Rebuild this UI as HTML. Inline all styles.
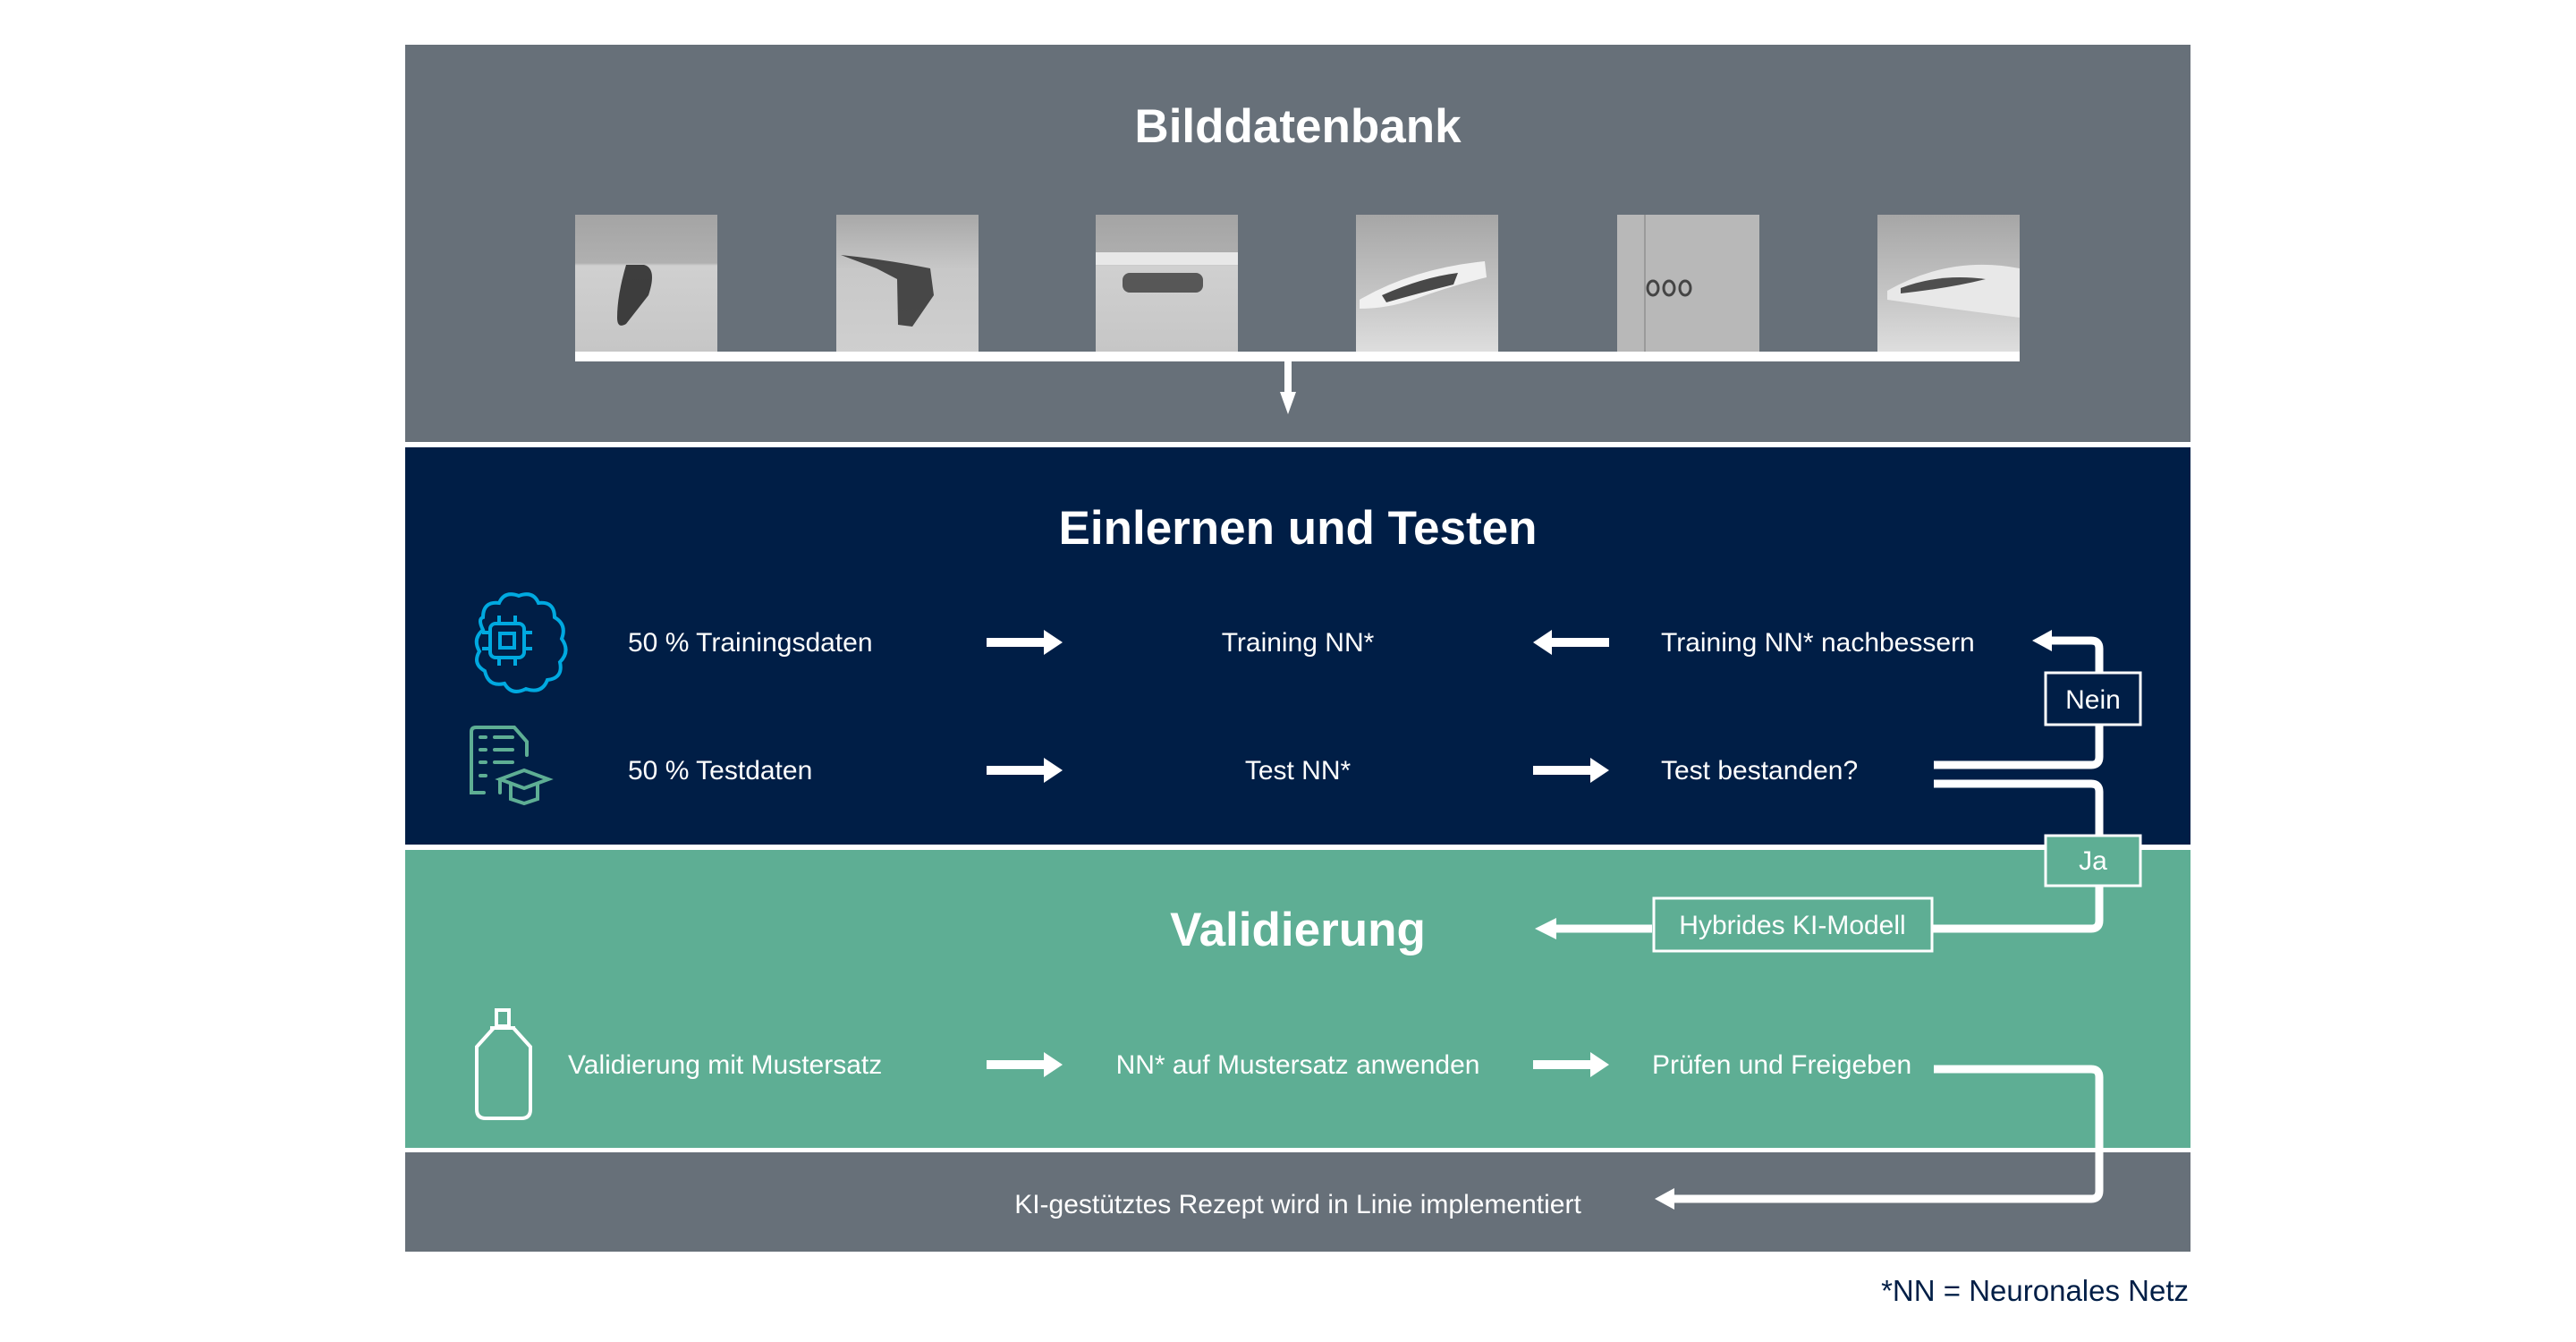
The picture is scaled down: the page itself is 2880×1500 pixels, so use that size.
<!DOCTYPE html>
<html><head><meta charset="utf-8"><style>
html,body{margin:0;padding:0;background:#fff;}
svg{display:block;}
text{font-family:"Liberation Sans",sans-serif;}
</style></head><body>
<svg width="2880" height="1500" viewBox="0 0 2880 1500" xmlns="http://www.w3.org/2000/svg">
<defs>
<linearGradient id="g1" x1="0" y1="0" x2="0" y2="1"><stop offset="0" stop-color="#a4a4a4"/><stop offset="0.35" stop-color="#b0b0b0"/><stop offset="0.37" stop-color="#d0d0d0"/><stop offset="1" stop-color="#c6c6c6"/></linearGradient>
<linearGradient id="g2" x1="0" y1="0" x2="0" y2="1"><stop offset="0" stop-color="#a8a8a8"/><stop offset="0.4" stop-color="#c8c8c8"/><stop offset="1" stop-color="#cfcfcf"/></linearGradient>
<linearGradient id="g3" x1="0" y1="0" x2="0" y2="1"><stop offset="0" stop-color="#a6a6a6"/><stop offset="0.6" stop-color="#c6c6c6"/><stop offset="1" stop-color="#dedede"/></linearGradient>
</defs>
<rect x="453" y="50" width="1996" height="444" fill="#677079"/>
<rect x="453" y="500" width="1996" height="444" fill="#001e46"/>
<rect x="453" y="950" width="1996" height="333" fill="#5eae94"/>
<rect x="453" y="1288" width="1996" height="111" fill="#677079"/>

<text x="1451" y="159" font-size="53" font-weight="bold" fill="#fff" text-anchor="middle">Bilddatenbank</text>
<text x="1451" y="608" font-size="53" font-weight="bold" fill="#fff" text-anchor="middle">Einlernen und Testen</text>
<text x="1451" y="1057" font-size="53" font-weight="bold" fill="#fff" text-anchor="middle">Validierung</text>

<g>
<rect x="643" y="240" width="159" height="154" fill="url(#g1)"/>
<path d="M700 296 L720 296 Q735 300 725 330 L700 362 Q690 368 690 355 Q690 330 700 296Z" fill="#2d2d2d" opacity="0.9"/>
<rect x="935" y="240" width="159" height="154" fill="url(#g2)"/>
<path d="M940 285 Q990 290 1040 300 L1044 330 L1020 365 L1004 363 L1003 312 L980 300 Z" fill="#303030" opacity="0.85"/>
<rect x="1225" y="240" width="159" height="154" fill="url(#g1)"/>
<rect x="1225" y="282" width="159" height="14" fill="#e8e8e8"/>
<rect x="1255" y="305" width="90" height="22" rx="8" fill="#3a3a3a" opacity="0.8"/>
<rect x="1516" y="240" width="159" height="154" fill="url(#g3)"/>
<path d="M1520 335 Q1580 300 1660 292 L1662 310 Q1620 320 1580 335 Q1550 345 1520 345Z" fill="#f0f0f0"/>
<path d="M1545 330 Q1590 310 1630 305 L1625 318 Q1585 328 1550 338Z" fill="#2a2a2a" opacity="0.85"/>
<rect x="1808" y="240" width="159" height="154" fill="#b8b8b8"/>
<rect x="1838" y="240" width="2" height="154" fill="#9a9a9a"/>
<g fill="none" stroke="#444" stroke-width="3"><ellipse cx="1848" cy="322" rx="6" ry="8"/><ellipse cx="1866" cy="322" rx="6" ry="8"/><ellipse cx="1884" cy="322" rx="6" ry="8"/></g>
<rect x="2099" y="240" width="159" height="154" fill="url(#g3)"/>
<path d="M2110 325 Q2180 285 2258 300 L2258 355 Q2180 345 2110 335Z" fill="#e8e8e8"/>
<path d="M2125 322 Q2170 305 2220 312 Q2180 322 2125 328Z" fill="#333" opacity="0.85"/>
</g>
<rect x="643" y="393" width="1615" height="11" fill="#fff"/>
<rect x="1436" y="403" width="8" height="37" fill="#fff"/>
<polygon points="1431,438 1449,438 1440,463" fill="#fff"/>

<g fill="none" stroke="#00a9e0" stroke-width="4">
<path d="M540 690 q0-18 18-16 q6-14 22-8 q16-6 22 8 q18-2 18 16 q14 8 8 24 q10 14-2 26 q4 18-14 20 q-6 16-24 10 q-16 8-24-6 q-18 4-22-14 q-14-8-6-22 q-8-14 4-24 q-6-12 0-14z"/>
<rect x="548" y="697" width="38" height="38" rx="6"/>
<rect x="559" y="708" width="16" height="16"/>
<path d="M558 688v9M576 688v9M558 735v9M576 735v9M539 707h9M539 725h9M586 707h9M586 725h9"/>
</g>
<g fill="none" stroke="#5eae94" stroke-width="4" stroke-linecap="round">
<path d="M541 886 H527 V818 Q527 813 532 813 H575 L589 829 V844"/>
<path d="M537 824h6M553 824h20M537 838h6M553 838h20M537 852h6M553 852h20M537 867h6"/>
<path d="M559 871 L586 861 L613 871 L586 881 Z"/>
<path d="M571 876 V893 L586 898 L601 893 V876"/>
<path d="M559 871 V886"/>
</g>
<g fill="none" stroke="#fff" stroke-width="4">
<rect x="555" y="1129" width="14" height="18"/>
<path d="M548 1149h28 M552 1149 L533 1170 V1240 Q533 1250 543 1250 H583 Q593 1250 593 1240 V1170 L574 1149"/>
</g>

<g font-size="30" fill="#fff">
<text x="702" y="728">50 % Trainingsdaten</text>
<text x="1451" y="728" text-anchor="middle">Training NN*</text>
<text x="1857" y="728">Training NN* nachbessern</text>
<text x="702" y="871">50 % Testdaten</text>
<text x="1451" y="871" text-anchor="middle">Test NN*</text>
<text x="1857" y="871">Test bestanden?</text>
<text x="635" y="1200">Validierung mit Mustersatz</text>
<text x="1451" y="1200" text-anchor="middle">NN* auf Mustersatz anwenden</text>
<text x="1847" y="1200">Prüfen und Freigeben</text>
<text x="1451" y="1356" text-anchor="middle">KI-gestütztes Rezept wird in Linie implementiert</text>
</g>
<text x="2447" y="1454" font-size="33" fill="#001e46" text-anchor="end">*NN = Neuronales Netz</text>

<g fill="#fff">
<path d="M1103 713h64v-9l21 14-21 14v-9h-64z"/>
<path d="M1103 856h64v-9l21 14-21 14v-9h-64z"/>
<path d="M1103 1185h64v-9l21 14-21 14v-9h-64z"/>
<path d="M1714 856h64v-9l21 14-21 14v-9h-64z"/>
<path d="M1714 1185h64v-9l21 14-21 14v-9h-64z"/>
<path d="M1799 713h-64v-9l-21 14 21 14v-9h64z"/>
</g>

<g fill="none" stroke="#fff" stroke-width="9">
<path d="M2162 855 H2338 Q2347 855 2347 846 V725 Q2347 716 2338 716 H2290"/>
<path d="M2162 876 H2338 Q2347 876 2347 885 V1029 Q2347 1038 2338 1038 H2160"/>
<path d="M1847 1038 H1738"/>
<path d="M2162 1195 H2338 Q2347 1195 2347 1204 V1331 Q2347 1340 2338 1340 H1870"/>
</g>
<g fill="#fff">
<polygon points="2294,704 2294,728 2272,716"/>
<polygon points="1740,1026 1740,1050 1716,1038"/>
<polygon points="1872,1328 1872,1352 1850,1340"/>
</g>
<rect x="2287" y="752" width="106" height="58" fill="#001e46" stroke="#fff" stroke-width="3"/>
<text x="2340" y="792" font-size="30" fill="#fff" text-anchor="middle">Nein</text>
<rect x="2287" y="934" width="106" height="56" fill="#5eae94" stroke="#fff" stroke-width="3"/>
<text x="2340" y="972" font-size="30" fill="#fff" text-anchor="middle">Ja</text>
<rect x="1849" y="1004" width="311" height="59" fill="#5eae94" stroke="#fff" stroke-width="3"/>
<text x="2004" y="1044" font-size="30" fill="#fff" text-anchor="middle">Hybrides KI-Modell</text>
</svg>
</body></html>
